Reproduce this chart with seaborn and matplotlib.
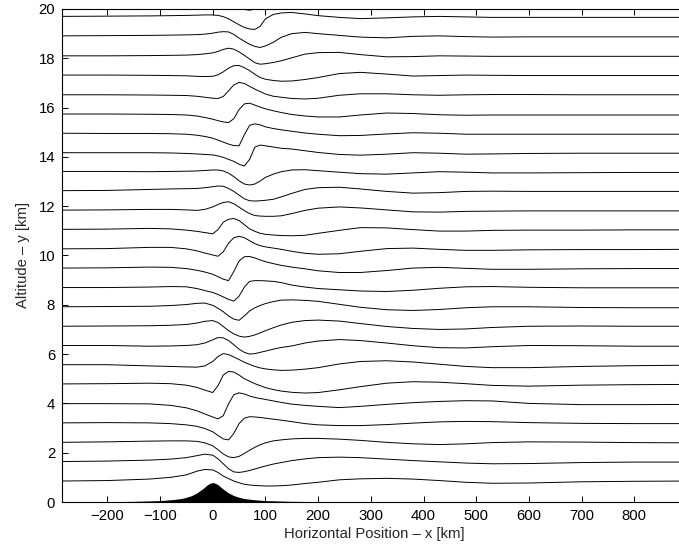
import matplotlib

matplotlib.use("Agg")

import matplotlib.pyplot as plt
import seaborn as sns
import pandas as pd

# horizontal sample positions (km) shared by every streamline
x_km = [-290, -200, -120, -80, -50, -30, -15, 0, 10, 20, 30, 40, 50, 60, 70, 80, 90,
        100, 115, 130, 150, 175, 200, 240, 280, 330, 380, 430, 480, 530, 600, 700, 800, 900]

# streamline altitudes (km), bottom to top
alt_00 = [0.85, 0.87, 0.93, 1.00, 1.10, 1.25, 1.32, 1.30, 1.20, 1.05, 0.95, 0.85, 0.78, 0.72, 0.69, 0.67, 0.66,
          0.65, 0.65, 0.66, 0.69, 0.75, 0.80, 0.90, 0.94, 0.96, 0.93, 0.87, 0.80, 0.76, 0.77, 0.82, 0.84, 0.85]
alt_01 = [1.64, 1.66, 1.70, 1.74, 1.80, 1.88, 1.94, 1.90, 1.75, 1.55, 1.35, 1.22, 1.20, 1.23, 1.28, 1.34, 1.40,
          1.46, 1.54, 1.60, 1.68, 1.75, 1.80, 1.82, 1.80, 1.74, 1.68, 1.63, 1.58, 1.55, 1.56, 1.60, 1.62, 1.62]
alt_02 = [2.42, 2.44, 2.47, 2.48, 2.48, 2.46, 2.40, 2.28, 2.12, 1.95, 1.83, 1.80, 1.85, 1.97, 2.10, 2.22, 2.32,
          2.40, 2.48, 2.52, 2.56, 2.58, 2.58, 2.55, 2.50, 2.42, 2.36, 2.33, 2.36, 2.41, 2.44, 2.43, 2.41, 2.40]
alt_03 = [3.21, 3.22, 3.21, 3.18, 3.13, 3.07, 2.98, 2.85, 2.70, 2.56, 2.52, 2.78, 3.18, 3.40, 3.46, 3.45, 3.43,
          3.40, 3.36, 3.32, 3.26, 3.18, 3.13, 3.10, 3.10, 3.14, 3.20, 3.25, 3.27, 3.26, 3.22, 3.19, 3.18, 3.18]
alt_04 = [3.99, 3.99, 3.98, 3.92, 3.82, 3.70, 3.57, 3.45, 3.37, 3.50, 3.98, 4.35, 4.43, 4.38, 4.30, 4.24, 4.20,
          4.16, 4.10, 4.04, 3.97, 3.92, 3.88, 3.83, 3.88, 3.96, 4.03, 4.08, 4.11, 4.10, 4.00, 3.95, 3.95, 3.96]
alt_05 = [4.79, 4.80, 4.82, 4.80, 4.74, 4.65, 4.54, 4.44, 4.72, 5.15, 5.30, 5.27, 5.15, 5.00, 4.90, 4.80, 4.72,
          4.64, 4.56, 4.50, 4.45, 4.42, 4.44, 4.55, 4.68, 4.82, 4.88, 4.86, 4.80, 4.73, 4.70, 4.74, 4.76, 4.77]
alt_06 = [5.57, 5.57, 5.52, 5.50, 5.48, 5.47, 5.52, 5.70, 5.90, 6.02, 5.98, 5.88, 5.78, 5.67, 5.58, 5.50, 5.44,
          5.40, 5.36, 5.34, 5.35, 5.39, 5.45, 5.60, 5.70, 5.73, 5.68, 5.59, 5.50, 5.45, 5.45, 5.50, 5.53, 5.55]
alt_07 = [6.35, 6.35, 6.32, 6.33, 6.35, 6.38, 6.45, 6.58, 6.67, 6.66, 6.55, 6.38, 6.20, 6.07, 6.00, 6.02, 6.07,
          6.12, 6.20, 6.27, 6.33, 6.45, 6.53, 6.59, 6.55, 6.45, 6.34, 6.26, 6.25, 6.30, 6.35, 6.34, 6.32, 6.32]
alt_08 = [7.13, 7.14, 7.15, 7.17, 7.20, 7.26, 7.33, 7.36, 7.28, 7.12, 6.95, 6.82, 6.73, 6.69, 6.72, 6.78, 6.86,
          6.95, 7.07, 7.18, 7.29, 7.36, 7.38, 7.34, 7.24, 7.12, 7.04, 7.00, 7.02, 7.08, 7.13, 7.14, 7.13, 7.13]
alt_09 = [7.92, 7.93, 7.94, 7.97, 8.01, 8.06, 8.07, 7.98, 7.86, 7.72, 7.55, 7.42, 7.37, 7.55, 7.75, 7.88, 7.97,
          8.05, 8.13, 8.19, 8.20, 8.18, 8.14, 8.02, 7.90, 7.80, 7.77, 7.81, 7.88, 7.92, 7.92, 7.89, 7.88, 7.88]
alt_10 = [8.70, 8.70, 8.72, 8.74, 8.73, 8.66, 8.58, 8.50, 8.42, 8.32, 8.22, 8.15, 8.35, 8.72, 8.95, 8.98, 8.98,
          8.97, 8.95, 8.90, 8.80, 8.72, 8.66, 8.61, 8.56, 8.54, 8.59, 8.67, 8.73, 8.74, 8.71, 8.69, 8.69, 8.69]
alt_11 = [9.49, 9.50, 9.53, 9.52, 9.47, 9.40, 9.33, 9.24, 9.14, 9.04, 8.98, 9.35, 9.78, 9.95, 9.96, 9.90, 9.82,
          9.75, 9.67, 9.60, 9.53, 9.46, 9.38, 9.31, 9.31, 9.39, 9.49, 9.52, 9.48, 9.44, 9.44, 9.46, 9.47, 9.47]
alt_12 = [10.27, 10.28, 10.33, 10.33, 10.27, 10.19, 10.10, 10.02, 9.97, 10.15, 10.50, 10.72, 10.78, 10.72, 10.60,
          10.48, 10.40, 10.35, 10.30, 10.25, 10.17, 10.09, 10.05, 10.07, 10.17, 10.28, 10.30, 10.25, 10.21, 10.21,
          10.23, 10.24, 10.24, 10.25]
alt_13 = [11.06, 11.07, 11.10, 11.08, 11.03, 10.98, 10.93, 10.88, 11.05, 11.35, 11.47, 11.50, 11.42, 11.25, 11.08,
          10.98, 10.90, 10.86, 10.83, 10.81, 10.80, 10.82, 10.90, 11.02, 11.13, 11.12, 11.05, 10.99, 10.99, 11.02,
          11.03, 11.03, 11.04, 11.04]
alt_14 = [11.84, 11.85, 11.87, 11.87, 11.85, 11.83, 11.87, 11.97, 12.07, 12.15, 12.18, 12.10, 11.96, 11.82, 11.70,
          11.62, 11.60, 11.59, 11.59, 11.61, 11.70, 11.83, 11.92, 11.97, 11.93, 11.85, 11.77, 11.76, 11.79, 11.80,
          11.81, 11.81, 11.81, 11.81]
alt_15 = [12.63, 12.64, 12.68, 12.70, 12.71, 12.72, 12.75, 12.79, 12.82, 12.81, 12.72, 12.60, 12.45, 12.30, 12.22,
          12.21, 12.22, 12.24, 12.28, 12.38, 12.52, 12.68, 12.75, 12.77, 12.70, 12.60, 12.53, 12.55, 12.60, 12.61,
          12.60, 12.60, 12.60, 12.60]
alt_16 = [13.41, 13.41, 13.40, 13.41, 13.42, 13.43, 13.45, 13.47, 13.47, 13.43, 13.34, 13.20, 13.03, 12.90, 12.86,
          12.90, 13.02, 13.17, 13.30, 13.40, 13.47, 13.48, 13.44, 13.38, 13.32, 13.30, 13.35, 13.40, 13.38, 13.35,
          13.35, 13.36, 13.37, 13.37]
alt_17 = [14.17, 14.17, 14.17, 14.16, 14.14, 14.12, 14.10, 14.08, 14.04, 13.98, 13.90, 13.82, 13.70, 13.63, 13.90,
          14.40, 14.48, 14.45, 14.40, 14.35, 14.32, 14.25, 14.18, 14.10, 14.07, 14.11, 14.17, 14.15, 14.11, 14.12,
          14.14, 14.15, 14.15, 14.15]
alt_18 = [14.96, 14.95, 14.95, 14.94, 14.92, 14.88, 14.83, 14.76, 14.68, 14.60, 14.52, 14.46, 14.45, 14.90, 15.28,
          15.34, 15.30, 15.22, 15.15, 15.10, 15.04, 14.97, 14.92, 14.86, 14.87, 14.93, 14.98, 14.96, 14.92, 14.92,
          14.92, 14.92, 14.92, 14.92]
alt_19 = [15.74, 15.74, 15.73, 15.72, 15.70, 15.66, 15.60, 15.53, 15.47, 15.42, 15.39, 15.55, 15.92, 16.15, 16.18,
          16.10, 16.02, 15.95, 15.87, 15.80, 15.72, 15.66, 15.62, 15.62, 15.70, 15.78, 15.76, 15.71, 15.69, 15.70,
          15.70, 15.70, 15.70, 15.70]
alt_20 = [16.52, 16.52, 16.51, 16.50, 16.49, 16.46, 16.42, 16.38, 16.37, 16.45, 16.68, 16.92, 17.02, 16.98, 16.86,
          16.75, 16.65, 16.55, 16.46, 16.42, 16.37, 16.35, 16.38, 16.50, 16.56, 16.56, 16.52, 16.50, 16.52, 16.53,
          16.53, 16.52, 16.52, 16.52]
alt_21 = [17.32, 17.32, 17.31, 17.30, 17.29, 17.27, 17.26, 17.27, 17.33, 17.45, 17.60, 17.70, 17.71, 17.62, 17.50,
          17.35, 17.22, 17.15, 17.10, 17.07, 17.08, 17.14, 17.22, 17.38, 17.43, 17.36, 17.28, 17.30, 17.32, 17.31,
          17.30, 17.30, 17.30, 17.30]
alt_22 = [18.10, 18.10, 18.11, 18.12, 18.13, 18.15, 18.18, 18.22, 18.28, 18.36, 18.41, 18.37, 18.26, 18.12, 17.97,
          17.82, 17.76, 17.78, 17.83, 17.90, 18.02, 18.17, 18.23, 18.24, 18.15, 18.06, 18.07, 18.10, 18.09, 18.08,
          18.08, 18.08, 18.08, 18.08]
alt_23 = [18.91, 18.92, 18.93, 18.94, 18.95, 18.96, 18.98, 19.02, 19.06, 19.08, 19.07, 18.97, 18.82, 18.69, 18.57,
          18.48, 18.44, 18.50, 18.65, 18.85, 19.00, 19.05, 19.00, 18.93, 18.86, 18.83, 18.89, 18.91, 18.88, 18.86,
          18.87, 18.87, 18.87, 18.87]
alt_24 = [19.70, 19.71, 19.72, 19.73, 19.74, 19.75, 19.76, 19.76, 19.74, 19.69, 19.60, 19.48, 19.36, 19.25, 19.19,
          19.17, 19.30, 19.60, 19.78, 19.84, 19.86, 19.80, 19.73, 19.66, 19.61, 19.64, 19.68, 19.70, 19.68, 19.66,
          19.66, 19.66, 19.66, 19.66]
alt_25 = [20.47, 20.47, 20.47, 20.47, 20.47, 20.47, 20.47, 20.47, 20.47, 20.47, 20.47, 20.30, 20.10, 19.98, 19.95,
          20.00, 20.15, 20.35, 20.45, 20.47, 20.47, 20.47, 20.47, 20.47, 20.47, 20.47, 20.47, 20.47, 20.47, 20.47,
          20.47, 20.47, 20.47, 20.47]

# mountain profile (km)
terrain_x = [-290, -200, -150, -100, -75, -60, -50, -40, -30, -20, -10, -5, 0,
             5, 10, 20, 30, 40, 50, 60, 75, 100, 150, 200, 300, 500, 900]
terrain_h = [0.008, 0.015, 0.027, 0.057, 0.10, 0.14, 0.19, 0.26, 0.37, 0.52, 0.70, 0.76, 0.79,
             0.76, 0.70, 0.52, 0.37, 0.26, 0.19, 0.14, 0.10, 0.057, 0.027, 0.015, 0.007, 0.003, 0.001]

streamlines = [alt_00, alt_01, alt_02, alt_03, alt_04, alt_05, alt_06, alt_07, alt_08, alt_09, alt_10, alt_11, alt_12,
               alt_13, alt_14, alt_15, alt_16, alt_17, alt_18, alt_19, alt_20, alt_21, alt_22, alt_23, alt_24, alt_25]

rows = []
for i, zs in enumerate(streamlines):
    for x, z in zip(x_km, zs):
        rows.append({"line": i, "x": x, "z": z})
df = pd.DataFrame(rows)

sns.set_style("ticks")
plt.rcParams["font.family"] = ["Liberation Sans", "DejaVu Sans"]

fig = plt.figure(figsize=(6.79, 5.54), dpi=100)
ax = fig.add_axes([62 / 679, 52 / 554, 624 / 679, 493 / 554])

ax.fill_between(terrain_x, 0, terrain_h, color="black", linewidth=0)
sns.lineplot(data=df, x="x", y="z", units="line", estimator=None, sort=False,
             color="black", linewidth=0.7, legend=False, ax=ax)

ax.set_xlim(-286, 898)
ax.set_ylim(0, 20)
ax.set_xticks(range(-200, 801, 100))
ax.set_yticks(range(0, 21, 2))
ax.tick_params(direction="in", top=True, right=True, length=4.3, width=0.7,
               labelsize=10.7, pad=5, colors="black")
for sp in ax.spines.values():
    sp.set_linewidth(0.8)
    sp.set_color("black")

ax.set_xlabel("Horizontal Position – x [km]", fontsize=10.7, labelpad=3)
ax.set_ylabel("Altitude – y [km]", fontsize=10.7, labelpad=6)

fig.savefig("out.png", dpi=100)
plt.close(fig)
